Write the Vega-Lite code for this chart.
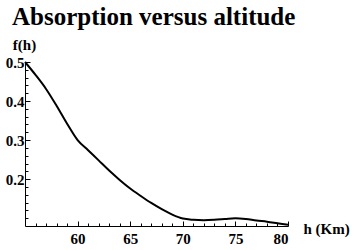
{
  "$schema": "https://vega.github.io/schema/vega-lite/v6.json",
  "width": 263,
  "height": 164,
  "autosize": {"type": "none"},
  "padding": {"left": 25, "top": 62, "right": 72, "bottom": 24},
  "background": "white",
  "title": {
    "text": "Absorption versus altitude",
    "anchor": "start",
    "frame": "group",
    "dx": -13,
    "dy": 23,
    "offset": 10,
    "baseline": "alphabetic",
    "font": "Liberation Serif",
    "fontSize": 25,
    "fontWeight": "bold",
    "color": "black"
  },
  "config": {
    "view": {"stroke": null},
    "axis": {
      "grid": false,
      "domainColor": "black",
      "domainWidth": 1,
      "tickColor": "black",
      "tickWidth": 1,
      "labelFont": "Liberation Serif",
      "labelFontSize": 15,
      "labelFontWeight": "bold",
      "labelColor": "black",
      "titleFont": "Liberation Serif",
      "titleFontSize": 15,
      "titleFontWeight": "bold",
      "titleColor": "black"
    }
  },
  "data": {
    "values": [
      {"h": 55, "f": 0.5},
      {"h": 56, "f": 0.467},
      {"h": 57, "f": 0.431},
      {"h": 58, "f": 0.388},
      {"h": 59, "f": 0.342},
      {"h": 60, "f": 0.3},
      {"h": 61, "f": 0.274},
      {"h": 62, "f": 0.248},
      {"h": 63, "f": 0.222},
      {"h": 64, "f": 0.198},
      {"h": 65, "f": 0.176},
      {"h": 66, "f": 0.157},
      {"h": 67, "f": 0.139},
      {"h": 68, "f": 0.123},
      {"h": 69, "f": 0.109},
      {"h": 70, "f": 0.099},
      {"h": 71, "f": 0.096},
      {"h": 72, "f": 0.095},
      {"h": 73, "f": 0.096},
      {"h": 74, "f": 0.098},
      {"h": 75, "f": 0.1},
      {"h": 76, "f": 0.098},
      {"h": 77, "f": 0.094},
      {"h": 78, "f": 0.091},
      {"h": 79, "f": 0.087},
      {"h": 80, "f": 0.083}
    ]
  },
  "layer": [
    {
      "mark": {"type": "line", "color": "black", "strokeWidth": 2, "interpolate": "monotone"},
      "encoding": {
        "x": {
          "field": "h",
          "type": "quantitative",
          "scale": {"domain": [55, 80], "nice": false, "zero": false},
          "axis": {
            "orient": "bottom",
            "values": [60, 65, 70, 75, 80],
            "tickSize": -5,
            "labelPadding": 10,
            "title": "h (Km)",
            "titleAngle": 0,
            "titleAlign": "left",
            "titleBaseline": "middle",
            "titleX": 278,
            "titleY": 2
          }
        },
        "y": {
          "field": "f",
          "type": "quantitative",
          "scale": {"domain": [0.08, 0.5], "nice": false, "zero": false},
          "axis": {
            "orient": "left",
            "values": [0.2, 0.3, 0.4, 0.5],
            "format": ".1f",
            "tickSize": -5,
            "labelPadding": 6,
            "title": "f(h)",
            "titleAngle": 0,
            "titleAlign": "center",
            "titleBaseline": "middle",
            "titleX": -1,
            "titleY": -18
          }
        }
      }
    },
    {
      "mark": {"type": "line", "opacity": 0},
      "encoding": {
        "x": {
          "field": "h",
          "type": "quantitative",
          "axis": {
            "orient": "bottom",
            "values": [56, 57, 58, 59, 61, 62, 63, 64, 66, 67, 68, 69, 71, 72, 73, 74, 76, 77, 78, 79],
            "tickSize": -3,
            "labels": false,
            "domain": false,
            "title": null
          }
        },
        "y": {
          "field": "f",
          "type": "quantitative",
          "axis": {
            "orient": "left",
            "values": [0.1, 0.12, 0.14, 0.16, 0.18, 0.22, 0.24, 0.26, 0.28, 0.32, 0.34, 0.36, 0.38, 0.42, 0.44, 0.46, 0.48],
            "tickSize": -3,
            "labels": false,
            "domain": false,
            "title": null
          }
        }
      }
    }
  ],
  "resolve": {"axis": {"x": "independent", "y": "independent"}}
}
